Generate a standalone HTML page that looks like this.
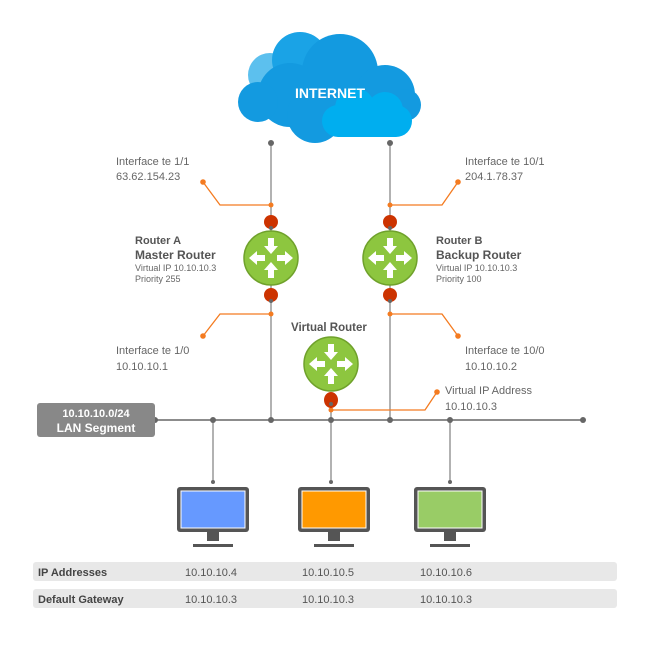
<!DOCTYPE html>
<html><head><meta charset="utf-8"><style>
body{margin:0;background:#fff}
svg{display:block;font-family:"Liberation Sans",sans-serif}
.g{fill:#666}
</style></head><body>
<svg width="649" height="656" viewBox="0 0 649 656" xmlns="http://www.w3.org/2000/svg">
<defs>
<g id="rt">
<circle r="27" fill="#8dc63f" stroke="#6fa12b" stroke-width="1.5"/>
<g fill="#fff">
<polygon points="-3,-20 3,-20 3,-12 7,-12 0,-4 -7,-12 -3,-12"/>
<polygon points="-3,20 3,20 3,12 7,12 0,4 -7,12 -3,12"/>
<polygon points="-22,0 -14,-7 -14,-3 -6,-3 -6,3 -14,3 -14,7"/>
<polygon points="22,0 14,-7 14,-3 6,-3 6,3 14,3 14,7"/>
</g>
</g>
<g id="mon">
<rect x="0" y="0" width="72" height="45" rx="3" fill="#555"/>
<rect x="30" y="45" width="12" height="9" fill="#555"/>
<rect x="16" y="57" width="40" height="3" fill="#555"/>
</g>
</defs>
<!-- cloud -->
<g>
<circle cx="270" cy="75" r="22" fill="#5cc0ee"/>
<circle cx="300" cy="60" r="28" fill="#1aa3e6"/>
<circle cx="340" cy="72" r="38" fill="#139ae0"/>
<circle cx="290" cy="95" r="32" fill="#139ae0"/>
<circle cx="258" cy="102" r="20" fill="#139ae0"/>
<circle cx="385" cy="95" r="30" fill="#139ae0"/>
<circle cx="405" cy="105" r="16" fill="#139ae0"/>
<circle cx="315" cy="115" r="28" fill="#139ae0"/>
<rect x="322" y="105" width="90" height="32" rx="16" fill="#00aeef"/>
<circle cx="355" cy="108" r="20" fill="#00aeef"/>
<circle cx="385" cy="110" r="18" fill="#00aeef"/>
<text x="330" y="98" fill="#fff" font-size="14" font-weight="bold" text-anchor="middle">INTERNET</text>
</g>
<!-- vertical lines -->
<g stroke="#999" stroke-width="1.5">
<line x1="271" y1="143" x2="271" y2="420"/>
<line x1="390" y1="143" x2="390" y2="420"/>
<line x1="331" y1="395" x2="331" y2="480"/>
<line x1="213" y1="420" x2="213" y2="482"/>
<line x1="450" y1="420" x2="450" y2="482"/>
</g>
<line x1="155" y1="420" x2="583" y2="420" stroke="#666" stroke-width="1.5"/>
<g class="g">
<circle cx="271" cy="143" r="3"/><circle cx="390" cy="143" r="3"/>
<circle cx="155" cy="420" r="3"/><circle cx="213" cy="420" r="3"/><circle cx="271" cy="420" r="3"/><circle cx="331" cy="420" r="3"/><circle cx="390" cy="420" r="3"/><circle cx="450" cy="420" r="3"/><circle cx="583" cy="420" r="3"/>
</g>
<!-- orange leaders -->
<g stroke="#f47b20" stroke-width="1.3" fill="none">
<polyline points="271,205 220,205 203,182"/>
<polyline points="390,205 442,205 458,182"/>
<polyline points="271,314 220,314 203,336"/>
<polyline points="390,314 442,314 458,336"/>
<polyline points="331,410 425,410 437,392"/>
</g>
<g fill="#f47b20">
<circle cx="271" cy="205" r="2.5"/><circle cx="203" cy="182" r="2.8"/>
<circle cx="390" cy="205" r="2.5"/><circle cx="458" cy="182" r="2.8"/>
<circle cx="271" cy="314" r="2.5"/><circle cx="203" cy="336" r="2.8"/>
<circle cx="390" cy="314" r="2.5"/><circle cx="458" cy="336" r="2.8"/>
<circle cx="331" cy="410" r="2.5"/><circle cx="437" cy="392" r="2.8"/>
</g>
<!-- red ports -->
<g fill="#cc3300">
<circle cx="271" cy="222" r="7"/><circle cx="271" cy="295" r="7"/>
<circle cx="390" cy="222" r="7"/><circle cx="390" cy="295" r="7"/>
<ellipse cx="331" cy="400" rx="7" ry="8"/>
</g>
<g class="g"><circle cx="271" cy="228" r="2"/><circle cx="390" cy="228" r="2"/><circle cx="271" cy="301" r="2"/><circle cx="390" cy="301" r="2"/><circle cx="331" cy="404" r="2"/></g>
<use href="#rt" x="271" y="258"/>
<use href="#rt" x="390" y="258"/>
<use href="#rt" x="331" y="364"/>
<!-- labels -->
<g fill="#666" font-size="11">
<text x="116" y="165">Interface te 1/1</text>
<text x="116" y="180">63.62.154.23</text>
<text x="465" y="165">Interface te 10/1</text>
<text x="465" y="180">204.1.78.37</text>
<text x="116" y="354">Interface te 1/0</text>
<text x="116" y="370">10.10.10.1</text>
<text x="465" y="354">Interface te 10/0</text>
<text x="465" y="370">10.10.10.2</text>
<text x="445" y="394">Virtual IP Address</text>
<text x="445" y="410">10.10.10.3</text>
</g>
<g fill="#555" font-weight="bold">
<text x="135" y="244" font-size="11">Router A</text>
<text x="135" y="259" font-size="12">Master Router</text>
<text x="436" y="244" font-size="11">Router B</text>
<text x="436" y="259" font-size="12">Backup Router</text>
<text x="291" y="331" font-size="11.5">Virtual Router</text>
</g>
<g fill="#666" font-size="9">
<text x="135" y="271">Virtual IP 10.10.10.3</text>
<text x="135" y="282">Priority 255</text>
<text x="436" y="271">Virtual IP 10.10.10.3</text>
<text x="436" y="282">Priority 100</text>
</g>
<rect x="37" y="403" width="118" height="34" rx="3" fill="#888"/>
<text x="96" y="417" fill="#fff" font-size="11" font-weight="bold" text-anchor="middle">10.10.10.0/24</text>
<text x="96" y="432" fill="#fff" font-size="12" font-weight="bold" text-anchor="middle">LAN Segment</text>
<!-- monitors -->
<use href="#mon" x="177" y="487"/><rect x="181" y="491" width="64" height="37" fill="#6699ff" stroke="#fff" stroke-width="1"/>
<use href="#mon" x="298" y="487"/><rect x="302" y="491" width="64" height="37" fill="#ff9900" stroke="#fff" stroke-width="1"/>
<use href="#mon" x="414" y="487"/><rect x="418" y="491" width="64" height="37" fill="#99cc66" stroke="#fff" stroke-width="1"/>
<circle cx="213" cy="482" r="2" class="g"/><circle cx="331" cy="482" r="2" class="g"/><circle cx="450" cy="482" r="2" class="g"/>
<!-- table -->
<rect x="33" y="562" width="584" height="19" rx="3" fill="#e8e8e8"/>
<rect x="33" y="589" width="584" height="19" rx="3" fill="#e8e8e8"/>
<g font-size="11">
<text x="38" y="576" fill="#444" font-weight="bold">IP Addresses</text>
<text x="38" y="603" fill="#444" font-weight="bold">Default Gateway</text>
<g fill="#555">
<text x="185" y="576">10.10.10.4</text><text x="302" y="576">10.10.10.5</text><text x="420" y="576">10.10.10.6</text>
<text x="185" y="603">10.10.10.3</text><text x="302" y="603">10.10.10.3</text><text x="420" y="603">10.10.10.3</text>
</g>
</g>
</svg>
</body></html>
